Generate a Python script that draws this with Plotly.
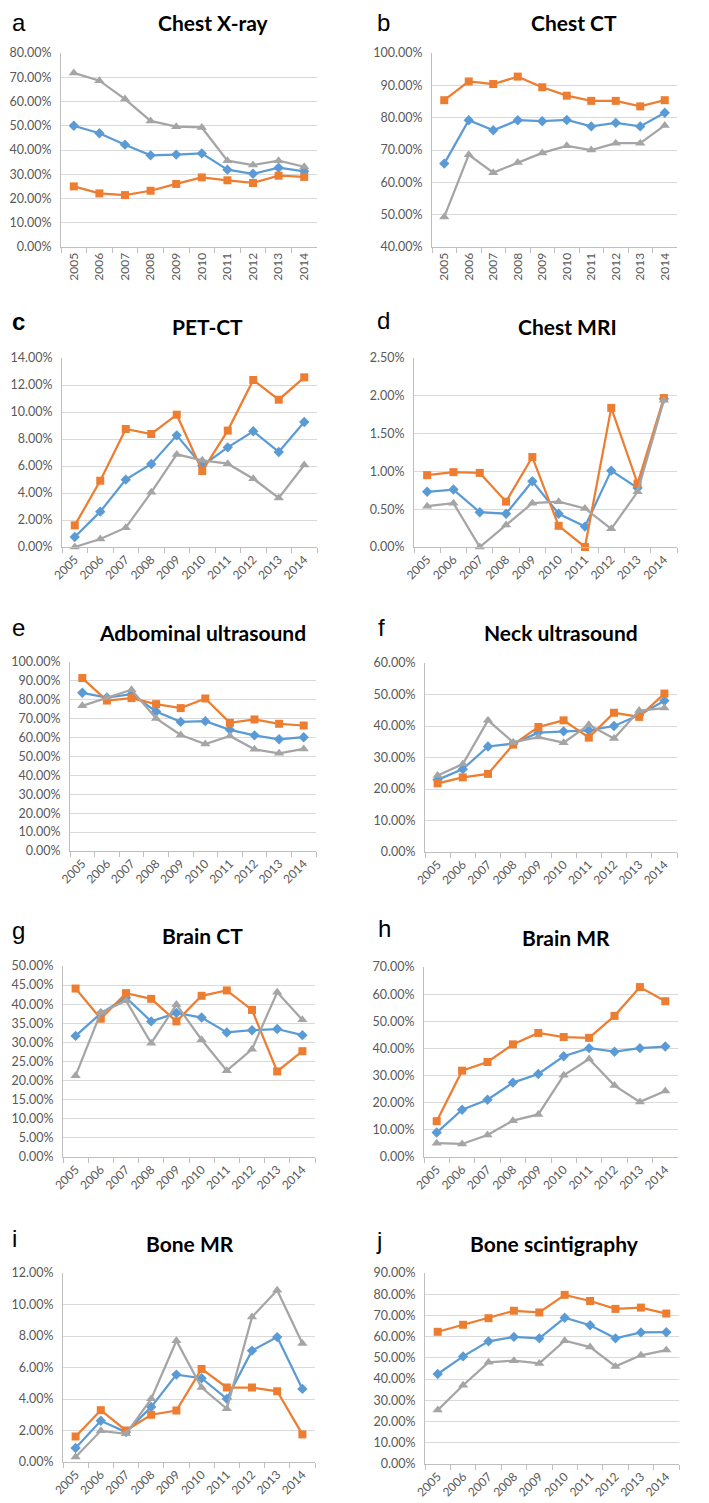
import plotly.graph_objects as go

years = ["2005", "2006", "2007", "2008", "2009", "2010", "2011", "2012", "2013", "2014"]

# ---- values (percent) ----
xray_blue = [50.0, 46.9, 42.2, 37.8, 38.1, 38.6, 31.9, 30.2, 32.7, 31.2]
xray_orange = [25.0, 22.1, 21.4, 23.2, 26.0, 28.7, 27.5, 26.4, 29.4, 28.9]
xray_gray = [71.8, 68.6, 61.0, 52.0, 49.6, 49.3, 35.6, 33.8, 35.6, 33.1]

chestct_blue = [65.8, 79.2, 76.1, 79.2, 78.9, 79.3, 77.3, 78.4, 77.3, 81.5]
chestct_orange = [85.4, 91.2, 90.4, 92.7, 89.4, 86.8, 85.2, 85.2, 83.5, 85.4]
chestct_gray = [49.3, 68.5, 63.0, 66.1, 69.1, 71.3, 70.0, 72.1, 72.1, 77.6]

petct_blue = [0.74, 2.62, 4.99, 6.15, 8.27, 6.02, 7.38, 8.57, 7.04, 9.26]
petct_orange = [1.60, 4.91, 8.74, 8.37, 9.80, 5.63, 8.62, 12.37, 10.91, 12.57]
petct_gray = [0.00, 0.59, 1.43, 4.05, 6.86, 6.42, 6.17, 5.06, 3.63, 6.07]

chestmri_blue = [0.73, 0.76, 0.46, 0.44, 0.87, 0.44, 0.27, 1.01, 0.78, 1.96]
chestmri_orange = [0.95, 0.99, 0.98, 0.60, 1.19, 0.28, 0.00, 1.84, 0.84, 1.97]
chestmri_gray = [0.54, 0.58, 0.00, 0.29, 0.58, 0.60, 0.51, 0.24, 0.73, 1.94]

abdus_blue = [83.7, 81.2, 83.0, 73.8, 68.3, 68.7, 64.1, 61.2, 59.1, 60.2]
abdus_orange = [91.5, 79.6, 80.9, 77.7, 75.6, 80.7, 67.8, 69.6, 67.3, 66.4]
abdus_gray = [76.8, 81.2, 85.3, 70.1, 61.4, 56.6, 60.9, 53.8, 51.7, 54.0]

neckus_blue = [22.9, 26.3, 33.5, 34.4, 37.9, 38.3, 38.6, 40.0, 43.5, 48.0]
neckus_orange = [21.8, 23.7, 24.8, 34.1, 39.7, 41.8, 36.3, 44.2, 42.9, 50.3]
neckus_gray = [24.3, 27.9, 41.8, 34.8, 36.5, 34.7, 40.4, 36.0, 44.9, 45.7]

brainct_blue = [31.7, 37.6, 41.7, 35.5, 37.7, 36.5, 32.6, 33.2, 33.5, 31.9]
brainct_orange = [44.1, 36.2, 42.9, 41.4, 35.5, 42.2, 43.6, 38.5, 22.4, 27.7]
brainct_gray = [21.3, 37.8, 40.9, 29.8, 39.9, 30.7, 22.6, 28.2, 43.1, 35.9]

brainmr_blue = [9.0, 17.4, 21.1, 27.4, 30.6, 37.1, 40.1, 38.8, 40.1, 40.7]
brainmr_orange = [13.2, 31.8, 35.0, 41.5, 45.7, 44.2, 43.9, 52.0, 62.6, 57.4]
brainmr_gray = [5.1, 4.8, 8.1, 13.4, 15.7, 30.1, 36.1, 26.3, 20.3, 24.3]

bonemr_blue = [0.89, 2.62, 1.90, 3.50, 5.55, 5.32, 4.01, 7.07, 7.93, 4.64]
bonemr_orange = [1.62, 3.29, 2.00, 3.00, 3.27, 5.91, 4.73, 4.73, 4.49, 1.75]
bonemr_gray = [0.32, 1.98, 1.79, 4.01, 7.70, 4.73, 3.38, 9.20, 10.91, 7.53]

bonescint_blue = [42.4, 50.7, 57.8, 59.9, 59.2, 68.9, 65.4, 59.2, 62.0, 62.1]
bonescint_orange = [62.3, 65.6, 68.7, 72.2, 71.4, 79.7, 76.8, 73.1, 73.7, 70.9]
bonescint_gray = [25.4, 37.1, 47.9, 48.7, 47.4, 58.1, 55.1, 46.0, 51.2, 53.7]

titles = ["Chest X-ray", "Chest CT", "PET-CT", "Chest MRI", "Adbominal ultrasound",
          "Neck ultrasound", "Brain CT", "Brain MR", "Bone MR", "Bone scintigraphy"]
letters = ["a", "b", "c", "d", "e", "f", "g", "h", "i", "j"]
y_ranges = [(0, 80, 10), (40, 100, 10), (0, 14, 2), (0, 2.5, 0.5), (0, 100, 10),
            (0, 60, 10), (0, 50, 5), (0, 70, 10), (0, 12, 2), (0, 90, 10)]

series = [
    (xray_blue, xray_orange, xray_gray),
    (chestct_blue, chestct_orange, chestct_gray),
    (petct_blue, petct_orange, petct_gray),
    (chestmri_blue, chestmri_orange, chestmri_gray),
    (abdus_blue, abdus_orange, abdus_gray),
    (neckus_blue, neckus_orange, neckus_gray),
    (brainct_blue, brainct_orange, brainct_gray),
    (brainmr_blue, brainmr_orange, brainmr_gray),
    (bonemr_blue, bonemr_orange, bonemr_gray),
    (bonescint_blue, bonescint_orange, bonescint_gray),
]

# ---- layout (page pixels) ----
OFF = 8                 # default page body margin
FW, FH = 709 - OFF, 1503 - OFF


def px(xp):
    return (xp - OFF) / FW


def py(yp):
    return 1 - (yp - OFF) / FH


boxes = [  # left, right, top, bottom of plot area
    (61, 317, 53, 247), (432, 677, 53, 247),
    (62, 317, 358, 547), (414, 677, 358, 547),
    (70, 316, 662, 851), (425, 677, 663, 852),
    (63, 315, 966, 1157), (424, 678, 967, 1157),
    (63, 315, 1273, 1462), (425, 679, 1273, 1464),
]
title_pos = [(213, 23), (574, 23), (207, 327), (567, 327), (202, 632),
             (561, 632), (202, 935), (566, 937), (190, 1243), (554, 1243)]
letter_pos = [(11, 17), (376, 15), (11, 322), (376, 320), (11, 628),
              (377, 627), (11, 930), (377, 928), (11, 1238), (375, 1240)]
tick_angles = [-90, -90, -45, -45, -45, -45, -45, -45, -45, -45]

BLUE, ORANGE, GRAY = "#5B9BD5", "#ED7D31", "#A5A5A5"
YTICKFONT = dict(family="Lato", size=12.5, color="#595959")
XTICKFONT = dict(family="Lato", size=12, color="#595959")

fig = go.Figure()
layout = dict(template="none", width=FW, height=FH,
              margin=dict(l=0, r=0, t=0, b=0, pad=0), autosize=False,
              paper_bgcolor="white", plot_bgcolor="white", showlegend=False)
annotations = []

for i in range(10):
    ax = "" if i == 0 else str(i + 1)
    b, o, g = series[i]
    for vals, col, sym, sz in ((b, BLUE, "diamond", 8), (o, ORANGE, "square", 8),
                               (g, GRAY, "triangle-up", 9)):
        fig.add_trace(go.Scatter(
            x=years, y=vals, mode="lines+markers", xaxis="x" + ax, yaxis="y" + ax,
            line=dict(color=col, width=2.25),
            marker=dict(symbol=sym, size=sz, color=col, line=dict(width=0)),
            cliponaxis=False, hoverinfo="skip"))
    L, R, T, B = boxes[i]
    ymin, ymax, dt = y_ranges[i]
    layout["xaxis" + ax] = dict(
        domain=[px(L), px(R)], anchor="y" + ax, type="category", automargin=False,
        range=[-0.5, 9.5], tickson="boundaries", ticks="outside", ticklen=5,
        tickcolor="#BFBFBF", tickwidth=1, showline=True, linecolor="#BFBFBF",
        linewidth=1, showgrid=False, tickangle=tick_angles[i], tickfont=XTICKFONT,
        zeroline=False)
    layout["yaxis" + ax] = dict(
        domain=[py(B), py(T)], anchor="x" + ax, range=[ymin, ymax],
        automargin=False, dtick=dt, tick0=ymin, tickformat=".2f", ticksuffix="%",
        showgrid=True, gridcolor="#D9D9D9", gridwidth=1, showline=True,
        linecolor="#BFBFBF", linewidth=1, ticks="", tickfont=YTICKFONT,
        zeroline=False, ticklabelstandoff=6)
    tx, ty = title_pos[i]
    annotations.append(dict(
        text="<b>" + titles[i] + "</b>", x=px(tx), y=py(ty), xref="paper",
        yref="paper", xanchor="center", yanchor="middle", showarrow=False,
        font=dict(family="Lato", size=21, color="black")))
    lx, ly = letter_pos[i]
    lt = "<b>" + letters[i] + "</b>" if letters[i] == "c" else letters[i]
    if i < 2:
        # top-row letters: keep the text box inside the figure's top edge
        ly_paper, yanch = 1.0, "top"
    else:
        ly_paper, yanch = py(ly), "middle"
    annotations.append(dict(
        text=lt, x=px(lx), y=ly_paper, xref="paper", yref="paper",
        xanchor="left", yanchor=yanch, showarrow=False, borderpad=0,
        font=dict(family="Liberation Sans", size=24, color="black")))

layout["annotations"] = annotations
fig.update_layout(**layout)
fig.write_html("out.html")
